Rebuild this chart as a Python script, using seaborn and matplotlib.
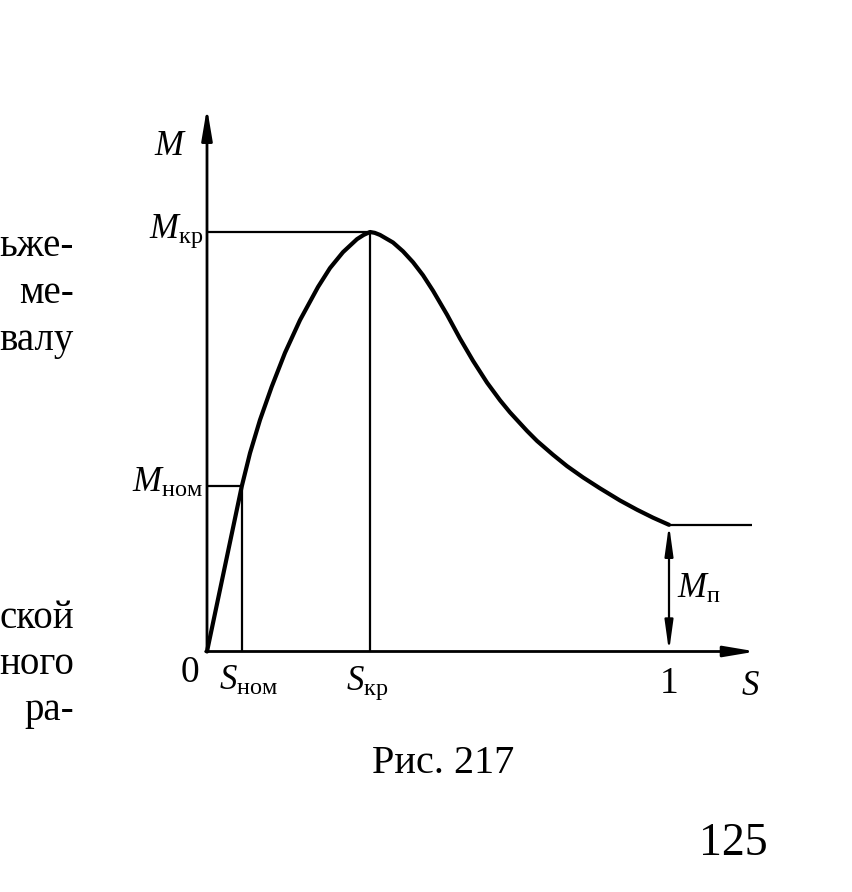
import numpy as np
import pandas as pd
import seaborn as sns
import matplotlib.pyplot as plt

# torque-slip curve (S in units of 1, M relative to M_kr)
s_curve = [0.0, 0.0751, 0.0931, 0.1147, 0.1400, 0.1688, 0.2013, 0.2403, 0.2662,
           0.2944, 0.3247, 0.339, 0.3528, 0.363, 0.3745, 0.4026, 0.4242, 0.4459,
           0.4675, 0.4892, 0.5195, 0.5476, 0.5758, 0.6061, 0.6342, 0.6558, 0.6926,
           0.7143, 0.7489, 0.7792, 0.8139, 0.8506, 0.8939, 0.9307, 0.9654, 1.0]
m_curve = [0.0, 0.393, 0.473, 0.552, 0.631, 0.712, 0.790, 0.869, 0.914,
           0.952, 0.983, 0.993, 1.0, 0.998, 0.993, 0.975, 0.954, 0.928,
           0.897, 0.860, 0.803, 0.746, 0.693, 0.641, 0.599, 0.570, 0.526,
           0.502, 0.469, 0.442, 0.415, 0.389, 0.360, 0.338, 0.319, 0.302]

s_nom, m_nom = 0.076, 0.394
s_kr, m_kr = 0.353, 1.0
s_start, m_p = 1.0, 0.302
s_flat_end = 1.18
s_axis_end, m_axis_end = 1.188, 1.296

page_top = ["ьже-", "ме-", "валу"]
page_bottom = ["ской", "ного", "ра-"]

W, H = 852, 892
sns.set_theme(style="white")
plt.rcParams['font.family'] = ['Liberation Serif', 'DejaVu Serif']
plt.rcParams['text.color'] = 'black'
plt.rcParams['mathtext.fontset'] = 'custom'
plt.rcParams['mathtext.it'] = 'Liberation Serif:italic'
plt.rcParams['mathtext.rm'] = 'Liberation Serif'

fig = plt.figure(figsize=(W / 100, H / 100), dpi=100)
ax = fig.add_axes([0, 0, 1, 1])
ax.set_xlim(-207 / 462, (W - 207) / 462)
ax.set_ylim(-(H - 651.5) / 419.5, 651.5 / 419.5)
ax.axis('off')

df = pd.DataFrame({'S': s_curve, 'M': m_curve})
sns.lineplot(data=df, x='S', y='M', sort=False, estimator=None,
             color='black', lw=3, ax=ax)

thin = dict(color='black', lw=1.6, solid_capstyle='butt')
ax.plot([0, s_kr], [m_kr, m_kr], **thin)
ax.plot([s_kr, s_kr], [0, m_kr], **thin)
ax.plot([0, s_nom], [m_nom, m_nom], **thin)
ax.plot([s_nom, s_nom], [0, m_nom], **thin)
ax.plot([s_start, s_flat_end], [m_p, m_p], **thin)

# axes with arrows
ax.annotate("", xy=(0, m_axis_end), xytext=(0, 0),
            arrowprops=dict(arrowstyle="-|>,head_length=1.9,head_width=0.32",
                            color='black', lw=2, shrinkA=0, shrinkB=0, mutation_scale=10))
ax.annotate("", xy=(s_axis_end, 0), xytext=(-0.003, 0),
            arrowprops=dict(arrowstyle="-|>,head_length=1.9,head_width=0.32",
                            color='black', lw=2, shrinkA=0, shrinkB=0, mutation_scale=10))
ax.annotate("", xy=(s_start, m_p), xytext=(s_start, 0),
            arrowprops=dict(arrowstyle="<|-|>,head_length=1.8,head_width=0.25",
                            color='black', lw=1.6, shrinkA=0, shrinkB=0, mutation_scale=10))


def ftext(px, py, s, size, ha='left', **kw):
    fig.text(px / W, 1 - py / H, s, fontsize=size, ha=ha, va='baseline',
             color='black', **kw)


lab = 25
ftext(170, 155, "$M$", lab, ha='center')
ftext(203, 238, r"$M_{\mathrm{кр}}$", lab, ha='right')
ftext(203, 492, r"$M_{\mathrm{ном}}$", lab, ha='right')
ftext(677, 598, r"$M_{\mathrm{п}}$", lab)
ftext(219, 690, r"$S_{\mathrm{ном}}$", lab)
ftext(346, 690, r"$S_{\mathrm{кр}}$", lab)
ftext(750, 695, "$S$", lab, ha='center')
ftext(190, 682, "0", 27, ha='center')
ftext(669, 693, "1", 27, ha='center')

ftext(443, 773, "Рис. 217", 29, ha='center')
ftext(733, 855, "125", 33, ha='center')

for i, t in enumerate(page_top):
    ftext(74, 256 + 47 * i, t, 28, ha='right')
for i, t in enumerate(page_bottom):
    ftext(74, 628 + 46 * i, t, 28, ha='right')

fig.savefig("out.png", dpi=100)
